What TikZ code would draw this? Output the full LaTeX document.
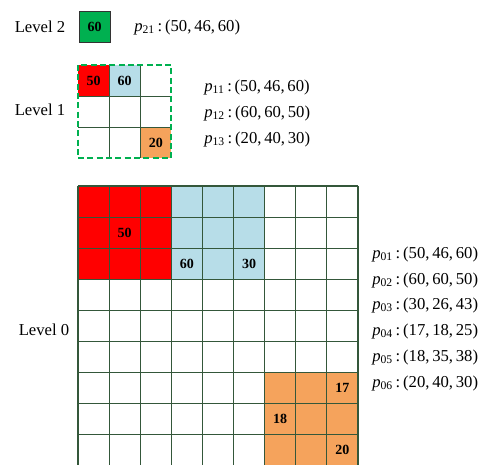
\documentclass[tikz,border=0pt]{standalone}
\usepackage{amsmath}
\usepackage{fontspec}
\setmainfont{Liberation Serif}
\usepackage{xcolor}
\usetikzlibrary{positioning}
\definecolor{cred}{HTML}{FF0000}
\definecolor{cblue}{HTML}{B7DDE8}
\definecolor{corange}{HTML}{F5A35C}
\definecolor{cgreen}{HTML}{00B050}
\definecolor{cline}{HTML}{34573A}
\newcommand{\pvec}[2]{\textit{p}$_{\text{#1}}$\,:\,(#2)}
\tikzset{
  % pixel-like units, y pointing down
  px/.style    = {x=0.75pt, y=-0.75pt},
  gline/.style = {draw=cline, line width=0.9pt},
  dash border/.style = {draw=cgreen, dash pattern=on 4.5pt off 2.5pt, line width=1.3pt},
  num/.style   = {font=\fontsize{10.5}{12}\selectfont\bfseries, inner sep=0pt},
  lvl/.style   = {font=\fontsize{12.5}{14}\selectfont, inner sep=0pt},
  plab/.style  = {font=\fontsize{12.5}{14}\selectfont, anchor=west, inner sep=0pt},
}
\begin{document}
\begin{tikzpicture}[px]
\useasboundingbox (0,0) rectangle (491,464);
\def\cs{31.1}
% level 2
\node[lvl] (lv2) at (40,26.5) {Level 2};
\node[num, draw=black!80, fill=cgreen, minimum size=23.3pt] (top) at (94.5,26.5) {60};
\node[plab] (p21) at (134,27) {\pvec{21}{50,\,46,\,60}};
% level 1
\fill[cred]    (78,65) rectangle ({78+\cs},{65+\cs});
\fill[cblue]   ({78+\cs},65) rectangle ({78+2*\cs},{65+\cs});
\fill[corange] ({78+2*\cs},{65+2*\cs}) rectangle ({78+3*\cs},{65+3*\cs});
\foreach \i in {1,2} {
  \draw[gline] ({78+\i*\cs},65) -- ({78+\i*\cs},{65+3*\cs});
  \draw[gline] (78,{65+\i*\cs}) -- ({78+3*\cs},{65+\i*\cs});
}
\draw[dash border] (78,65) rectangle ({78+3*\cs},{65+3*\cs});
\node[num] (m50) at ({78+0.5*\cs},{65+0.5*\cs}) {50};
\node[num] (m60) at ({78+1.5*\cs},{65+0.5*\cs}) {60};
\node[num] (m20) at ({78+2.5*\cs},{65+2.5*\cs}) {20};
\node[lvl] (lv1) at (40,110) {Level 1};
\node[plab] (p11) at (204,87)  {\pvec{11}{50,\,46,\,60}};
\node[plab] (p12) at (204,113) {\pvec{12}{60,\,60,\,50}};
\node[plab] (p13) at (204,139) {\pvec{13}{20,\,40,\,30}};
% level 0
\fill[cred]    (78,186) rectangle ({78+3*\cs},{186+3*\cs});
\fill[cblue]   ({78+3*\cs},186) rectangle ({78+6*\cs},{186+3*\cs});
\fill[corange] ({78+6*\cs},{186+6*\cs}) rectangle ({78+9*\cs},{186+9*\cs});
\foreach \i in {0,...,9} {
  \draw[gline] ({78+\i*\cs},186) -- ({78+\i*\cs},{186+9*\cs});
  \draw[gline] (78,{186+\i*\cs}) -- ({78+9*\cs},{186+\i*\cs});
}
\node[num] (f50) at ({78+1.5*\cs},{186+1.5*\cs}) {50};
\node[num] (f60) at ({78+3.5*\cs},{186+2.5*\cs}) {60};
\node[num] (f30) at ({78+5.5*\cs},{186+2.5*\cs}) {30};
\node[num] (f17) at ({78+8.5*\cs},{186+6.5*\cs}) {17};
\node[num] (f18) at ({78+6.5*\cs},{186+7.5*\cs}) {18};
\node[num] (f20) at ({78+8.5*\cs},{186+8.5*\cs}) {20};
\node[lvl] (lv0) at (44,330) {Level 0};
\node[plab] (p01) at (372,254) {\pvec{01}{50,\,46,\,60}};
\node[plab] (p02) at (372,280) {\pvec{02}{60,\,60,\,50}};
\node[plab] (p03) at (372,305) {\pvec{03}{30,\,26,\,43}};
\node[plab] (p04) at (372,331) {\pvec{04}{17,\,18,\,25}};
\node[plab] (p05) at (372,357) {\pvec{05}{18,\,35,\,38}};
\node[plab] (p06) at (372,383) {\pvec{06}{20,\,40,\,30}};
\end{tikzpicture}
\end{document}
